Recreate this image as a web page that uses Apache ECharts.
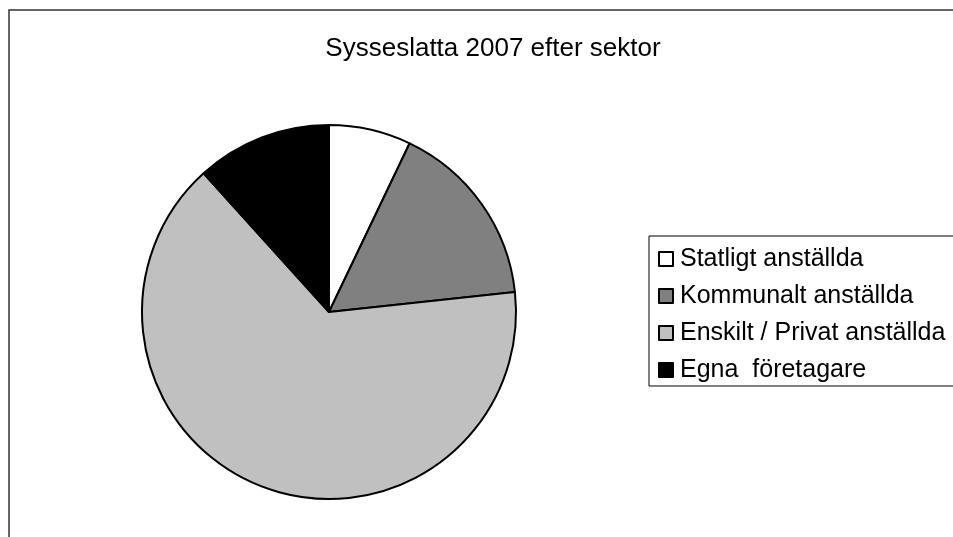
<!DOCTYPE html>
<html>
<head>
<meta charset="utf-8">
<script src="https://cdn.jsdelivr.net/npm/echarts@6/dist/echarts.min.js"></script>
<style>
  html, body { margin: 0; padding: 0; background: #fff; }
  #main { width: 953px; height: 537px; }
</style>
</head>
<body>
<div id="main"></div>
<script>
// Sysselsatta per sektor, andelar i procent
const sectors = ["Statligt anställda", "Kommunalt anställda", "Enskilt / Privat anställda", "Egna  företagare"];
const shares = [7.1, 16.2, 65.0, 11.7];
const colors = ["#ffffff", "#808080", "#c0c0c0", "#000000"];

const chart = echarts.init(document.getElementById("main"));

chart.setOption({
  animation: false,
  textStyle: { fontFamily: "Liberation Sans, Arial, sans-serif" },
  title: {
    text: "Sysseslatta 2007 efter sektor",
    left: 488,
    textAlign: "center",
    top: 31,
    textStyle: { fontSize: 26, fontWeight: "normal", color: "#000" }
  },
  legend: {
    orient: "vertical",
    left: 649,
    top: 236,
    padding: [9, 14, 2, 9],
    backgroundColor: "#fff",
    borderColor: "#000",
    borderWidth: 1,
    borderRadius: 0,
    icon: "rect",
    itemWidth: 14,
    itemHeight: 14,
    itemGap: 9,
    selectedMode: false,
    itemStyle: { borderColor: "#000", borderWidth: 2 },
    textStyle: { fontSize: 25, color: "#000", lineHeight: 28, padding: [0, 0, 0, 2] },
    data: sectors
  },
  graphic: [
    {
      type: "polyline",
      silent: true,
      shape: { points: [[9, 537], [9, 10], [953, 10]] },
      style: { stroke: "#333", lineWidth: 1.5, fill: null }
    }
  ],
  series: [
    {
      type: "pie",
      center: [329, 312],
      radius: 187,
      startAngle: 90,
      clockwise: true,
      silent: true,
      label: { show: false },
      labelLine: { show: false },
      itemStyle: { borderColor: "#000", borderWidth: 2 },
      data: sectors.map((name, i) => ({
        name: name,
        value: shares[i],
        itemStyle: { color: colors[i] }
      }))
    }
  ]
});
</script>
</body>
</html>
